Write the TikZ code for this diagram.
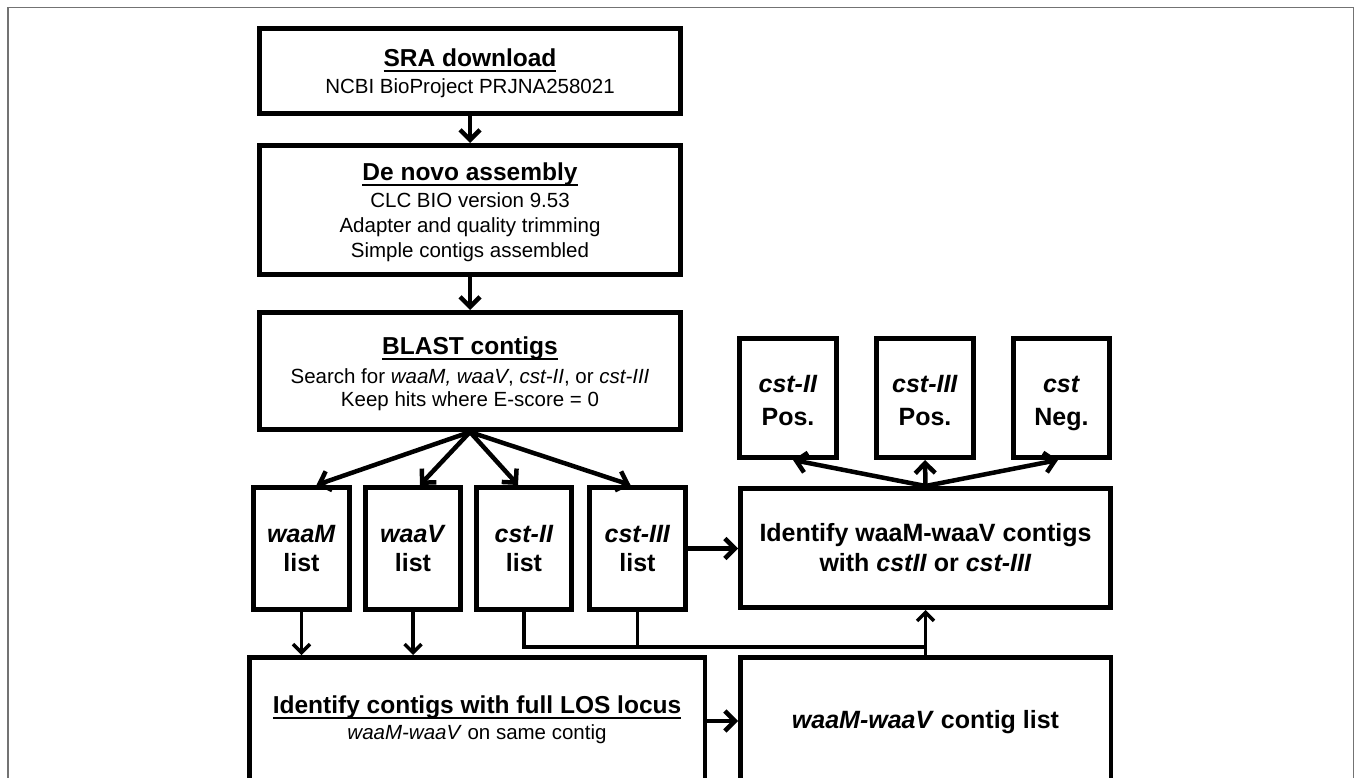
\documentclass[tikz,border=0pt]{standalone}
\usepackage{fontspec}
\setmainfont{Liberation Sans}
\usetikzlibrary{arrows.meta,calc}
\newsavebox\ulbox
\newcommand\ulx[1]{\sbox\ulbox{#1}\rlap{\rule[-5.4pt]{\wd\ulbox}{2.1pt}}\usebox\ulbox}
\newcommand\tsize{\fontsize{24.5}{25}\selectfont\bfseries}
\begin{document}
\begin{tikzpicture}[x=1pt,y=-1pt,
  box/.style={draw, line width=5pt, inner sep=0pt},
  lowbox/.style={draw, line width=4.5pt, inner sep=0pt},
  txt/.style={inner sep=0pt, align=center},
  body/.style={font=\fontsize{20.5}{25}\selectfont},
  big/.style={font=\fontsize{25}{28.4}\selectfont\bfseries},
  arr/.style={line width=4.5pt, -{Straight Barb[length=10pt,width=20pt]}},
  tarr/.style={line width=3.5pt, -{Straight Barb[length=8.5pt,width=17pt]}}]
\useasboundingbox (0,0) rectangle (1360,778);
\clip (0,0) rectangle (1360,778);
\draw[black!55, line width=1.5pt] (8,7.5) rectangle (1353.5,820);

% boxes
\node[box, minimum width=421pt, minimum height=85pt] (sra) at (470,71) {};
\node[box, minimum width=421pt, minimum height=129pt] (dn) at (470,210) {};
\node[box, minimum width=421pt, minimum height=117pt] (bl) at (470,371) {};
\node[box, minimum width=96pt, minimum height=122pt] (wm) at (301.5,548.5) {};
\node[box, minimum width=95pt, minimum height=122pt] (wv) at (413,548.5) {};
\node[box, minimum width=95pt, minimum height=122pt] (c2) at (524,548.5) {};
\node[box, minimum width=96pt, minimum height=122pt] (c3) at (637.5,548.5) {};
\node[box, minimum width=370pt, minimum height=119pt] (id) at (925.5,548) {};
\node[box, minimum width=97pt, minimum height=119pt] (p2) at (788,398) {};
\node[box, minimum width=97pt, minimum height=119pt] (p3) at (925,398) {};
\node[box, minimum width=96pt, minimum height=119pt] (ng) at (1061.5,398) {};
\node[lowbox, minimum width=455.5pt, minimum height=127.5pt] (los) at (477,721) {};
\node[lowbox, minimum width=370.5pt, minimum height=127.5pt] (cl) at (925.5,721) {};

% texts
\node[txt, body] (sra-t) at (470,73.5) {{\tsize\ulx{SRA download}}\\[2.3pt]NCBI BioProject PRJNA258021};
\node[txt, body] (dn-t) at (470,212.4) {{\tsize\ulx{De novo assembly}}\\[1.5pt]CLC BIO version 9.53\\Adapter and quality trimming\\Simple contigs assembled};
\node[txt, font=\fontsize{20.5}{23.5}\selectfont] (bl-t) at (470,374) {{\tsize\ulx{BLAST contigs}}\\[4.8pt]Search for \textit{waaM, waaV}, \textit{cst-II}, or \textit{cst-III}\\Keep hits where E-score = 0};
\node[txt, big] (wm-t) at (301.5,548.5) {\textit{waaM}\\list};
\node[txt, big] (wv-t) at (413,548.5) {\textit{waaV}\\list};
\node[txt, big] (c2-t) at (524,548.5) {\textit{cst-II}\\list};
\node[txt, big] (c3-t) at (637.5,548.5) {\textit{cst-III}\\list};
\node[txt, font=\fontsize{25}{33}\selectfont\bfseries] (p2-t) at (788,401) {\textit{cst-II}\\Pos.};
\node[txt, font=\fontsize{25}{33}\selectfont\bfseries] (p3-t) at (925,401) {\textit{cst-III}\\Pos.};
\node[txt, font=\fontsize{25}{33}\selectfont\bfseries] (ng-t) at (1061.5,403.6) {\textit{cst}\\Neg.};
\node[txt, font=\fontsize{25}{30}\selectfont\bfseries] (id-t) at (925.5,547.7) {Identify waaM-waaV contigs\\with \textit{cstII} or \textit{cst-III}};
\node[txt, font=\fontsize{20.5}{26}\selectfont] (los-t) at (477,720) {{\tsize\ulx{Identify contigs with full LOS locus}}\\\textit{waaM-waaV} on same contig};
\node[txt, font=\fontsize{25}{30}\selectfont\bfseries] (cl-t) at (925.5,722) {\textit{waaM-waaV} contig list};

% connectors
\draw[arr] (sra.south) -- (dn.north);
\draw[arr] (dn.south) -- (bl.north);
\draw[arr] (bl.south) -- ($(wm.north)+(15,0)$);
\draw[arr] (bl.south) -- ($(wv.north)+(7,0)$);
\draw[arr] (bl.south) -- ($(c2.north)+(-6,0)$);
\draw[arr] (bl.south) -- ($(c3.north)+(-7,0)$);
\draw[arr] (c3.east) -- (c3.east -| id.west);
\draw[arr] (id.north) -- ($(p2.south)+(5,0)$);
\draw[arr] (id.north) -- (p3.south);
\draw[arr] (id.north) -- ($(ng.south)+(-3.5,0)$);
\draw[tarr] (wm.south) -- (wm.south |- los.north);
\draw[tarr] (wv.south) -- (wv.south |- los.north);
\coordinate (j) at (925.5,647);
\draw[line width=3.5pt] (c2.south) |- (j);
\draw[line width=3.5pt] (c3.south) -- (c3.south |- j);
\draw[tarr] (cl.north) -- (id.south);
\draw[arr] (los.east) -- (cl.west);
\end{tikzpicture}
\end{document}
